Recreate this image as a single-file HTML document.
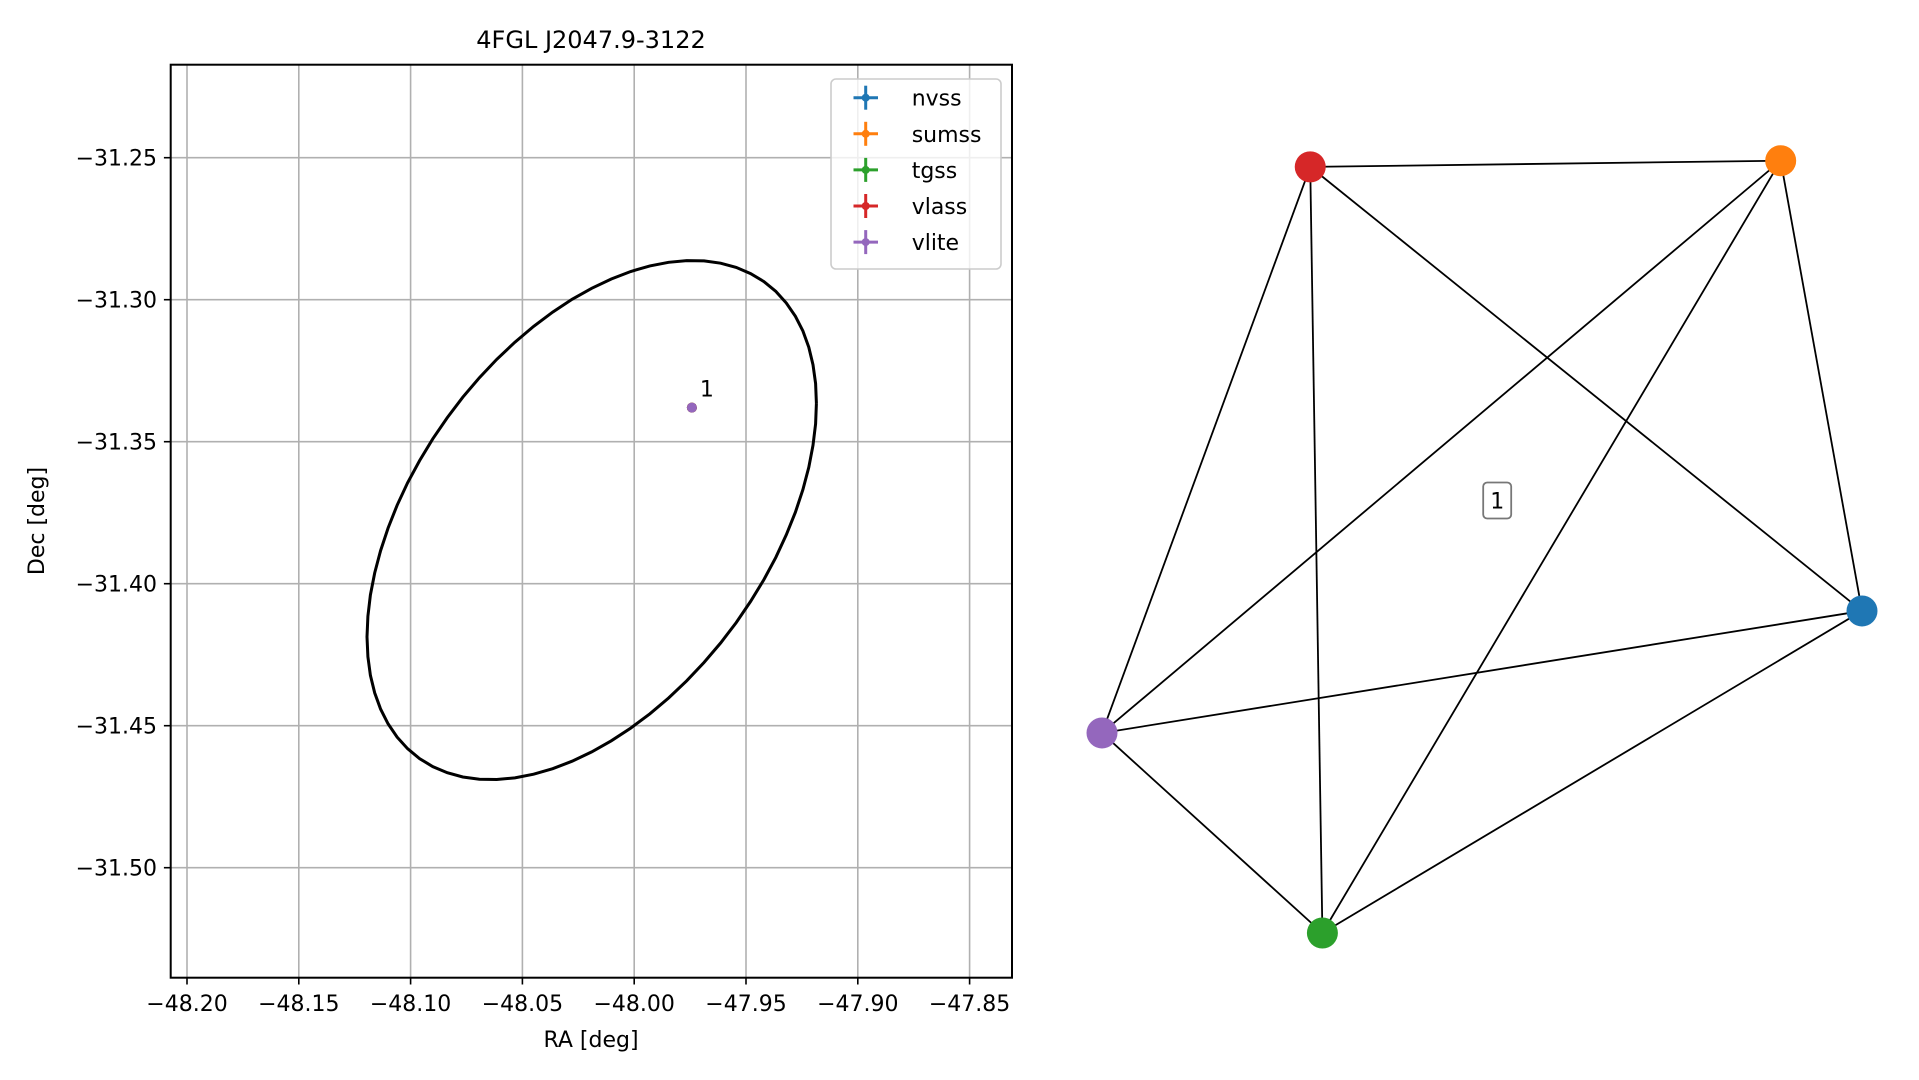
<!DOCTYPE html>
<html><head><meta charset="utf-8"><style>
html,body{margin:0;padding:0;background:#fff;}
svg{display:block;font-family:"DejaVu Sans","Liberation Sans",sans-serif;}
</style></head><body>
<svg id="fig" width="1919" height="1080" viewBox="0 0 1919 1080" xmlns="http://www.w3.org/2000/svg">
<rect width="1919" height="1080" fill="#fff"/>
<g id="grid"></g>
<g id="ellipse-g"></g>
<g id="points"></g>
<rect x="170.7" y="64.7" width="841.3" height="913" fill="none" stroke="#000" stroke-width="2"/>
<g id="xticks"></g>
<g id="yticks"></g>
<text x="591" y="48" font-size="24" text-anchor="middle">4FGL J2047.9-3122</text>
<text x="591" y="1047" font-size="22" text-anchor="middle">RA [deg]</text>
<text x="0" y="0" font-size="22" text-anchor="middle" transform="translate(44,521) rotate(-90)">Dec [deg]</text>
<g id="legend"></g>
<g id="network"></g>
</svg>
<script>
const NS="http://www.w3.org/2000/svg";
// ---- data ----
const xTicks=[-48.20,-48.15,-48.10,-48.05,-48.00,-47.95,-47.90,-47.85];
const xTickLabels=["\u221248.20","\u221248.15","\u221248.10","\u221248.05","\u221248.00","\u221247.95","\u221247.90","\u221247.85"];
const yTicks=[-31.25,-31.30,-31.35,-31.40,-31.45,-31.50];
const yTickLabels=["\u221231.25","\u221231.30","\u221231.35","\u221231.40","\u221231.45","\u221231.50"];
const ellipseCenter=[-48.0190,-31.3776];
const ellipseHalfRA=0.1005;
const ellipseHalfDec=0.0914;
const ellipseCorr=0.45;
const surveys=["nvss","sumss","tgss","vlass","vlite"];
const surveyColors=["#1f77b4","#ff7f0e","#2ca02c","#d62728","#9467bd"];
const sourceRA=[-47.9742,-47.9742,-47.9742,-47.9742,-47.9742];
const sourceDec=[-31.338,-31.338,-31.338,-31.338,-31.338];
const sourceLabel="1";
// network layout (normalized 0..1)
const nodeLX=[1.0,0.893,0.290,0.274,0.0];
const nodeLY=[0.583,0.0,1.0,0.008,0.741];
const edges=[[0,1],[0,2],[0,3],[0,4],[1,2],[1,3],[1,4],[2,3],[2,4],[3,4]];
const clusterLabel="1";
const clusterPos=[0.52,0.44];
// ---- scales ----
function xs(v){return 187+(v+48.20)/0.05*111.8;}
function ys(v){return 157.7+(-31.25-v)/0.05*142;}
function nx(v){return 1102+v*760;}
function ny(v){return 160.7+v*772.3;}
function mk(tag,attrs,parent){const e=document.createElementNS(NS,tag);for(const k in attrs)e.setAttribute(k,attrs[k]);parent.appendChild(e);return e;}
const grid=document.getElementById('grid');
const xt=document.getElementById('xticks'),yt=document.getElementById('yticks');
xTicks.forEach((v,i)=>{const x=xs(v);
 const g=mk('line',{x1:x,x2:x,y1:64.7,y2:977.7,stroke:'#b0b0b0','stroke-width':1.6},grid);
 
 
 const t=mk('line',{x1:x,x2:x,y1:977.7,y2:984.5,stroke:'#000','stroke-width':1.6},xt);
 
 
 const l=mk('text',{x:x,y:1011,'font-size':22,'text-anchor':'middle'},xt);l.textContent=xTickLabels[i];
 
 
});
yTicks.forEach((v,i)=>{const y=ys(v);
 const g=mk('line',{x1:170.7,x2:1012,y1:y,y2:y,stroke:'#b0b0b0','stroke-width':1.6},grid);
 
 
 const t=mk('line',{x1:163.9,x2:170.7,y1:y,y2:y,stroke:'#000','stroke-width':1.6},yt);
 
 
 const l=mk('text',{x:157,y:y+8,'font-size':22,'text-anchor':'end'},yt);l.textContent=yTickLabels[i];
 
 
});
// ellipse
let pts=[];const s=Math.sqrt(1-ellipseCorr*ellipseCorr);
for(let k=0;k<=72;k++){const t=k/72*2*Math.PI;
 const ra=ellipseCenter[0]+ellipseHalfRA*Math.cos(t);
 const de=ellipseCenter[1]+ellipseHalfDec*(ellipseCorr*Math.cos(t)+s*Math.sin(t));
 pts.push(xs(ra).toFixed(1)+','+ys(de).toFixed(1));}
const el=mk('polyline',{points:pts.join(' '),fill:'none',stroke:'#000','stroke-width':3},document.getElementById('ellipse-g'));


// points
const pg=document.getElementById('points');
surveys.forEach((n,i)=>{const c=mk('circle',{cx:xs(sourceRA[i]),cy:ys(sourceDec[i]),r:5,fill:surveyColors[i]},pg);
 
 });
const pl=mk('text',{x:xs(sourceRA[0])+8,y:ys(sourceDec[0])-11,'font-size':22},pg);pl.textContent=sourceLabel;


// legend
const lg=document.getElementById('legend');
const lb=mk('rect',{x:831,y:79,width:170,height:190,rx:5,fill:'#fff','fill-opacity':0.8,stroke:'#ccc','stroke-width':1.6},lg);


surveys.forEach((n,i)=>{const y=97.7+i*36.1;const g=mk('g',{},lg);
 
 
 mk('line',{x1:853.5,x2:878,y1:y,y2:y,stroke:surveyColors[i],'stroke-width':3},g);
 mk('line',{x1:865.7,x2:865.7,y1:y-12,y2:y+12,stroke:surveyColors[i],'stroke-width':3},g);
 mk('circle',{cx:865.7,cy:y,r:4,fill:surveyColors[i]},g);
 const t=mk('text',{x:911.7,y:y+8,'font-size':22},g);t.textContent=n;});
// network
const nw=document.getElementById('network');
edges.forEach(e=>{const a=e[0],b=e[1];
 const l=mk('line',{x1:nx(nodeLX[a]),y1:ny(nodeLY[a]),x2:nx(nodeLX[b]),y2:ny(nodeLY[b]),stroke:'#000','stroke-width':1.8},nw);
 
 });
surveys.forEach((n,i)=>{const c=mk('circle',{cx:nx(nodeLX[i]),cy:ny(nodeLY[i]),r:15.5,fill:surveyColors[i]},nw);
 
 });
const cx=nx(clusterPos[0]),cy=ny(clusterPos[1]);
const cb=mk('rect',{x:cx-14,y:cy-18,width:28,height:36,rx:4,fill:'#fff',stroke:'#777','stroke-width':1.8},nw);


const ct=mk('text',{x:cx,y:cy+8,'font-size':22,'text-anchor':'middle'},nw);ct.textContent=clusterLabel;


</script>
</body></html>
